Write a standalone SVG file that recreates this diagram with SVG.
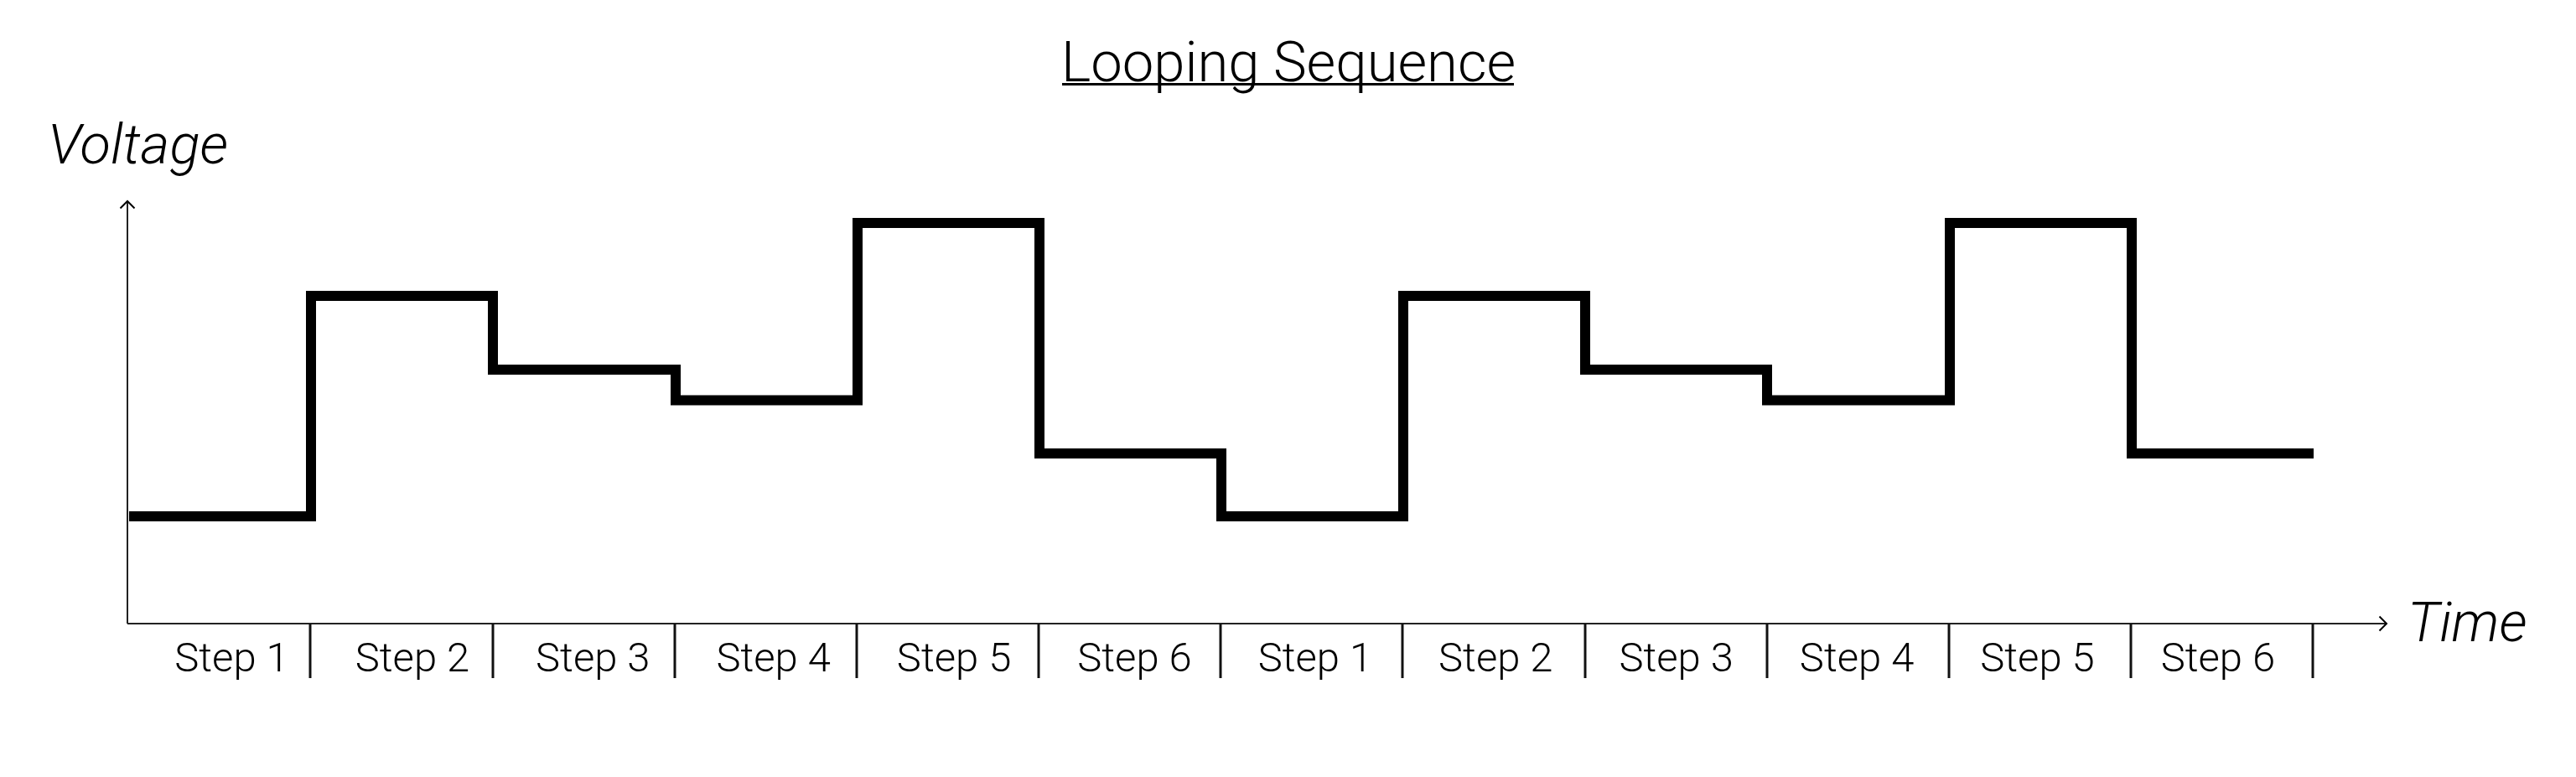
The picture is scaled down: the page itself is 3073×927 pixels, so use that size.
<svg xmlns="http://www.w3.org/2000/svg" width="3073" height="927" viewBox="0 0 3073 927">
<style>
  .lbl { font-family: Roboto, "Liberation Sans", sans-serif; font-weight: 300; fill: #000; }
  .step { font-size: 49px; text-anchor: middle; }
  .axis { stroke: #222; stroke-width: 2; fill: none; }
  .tick { stroke: #111; stroke-width: 3; fill: none; }
  .wave { stroke: #000; stroke-width: 12; fill: none; stroke-linejoin: miter; stroke-linecap: butt; }
</style>
<defs>
  <marker id="arrow" markerUnits="userSpaceOnUse" markerWidth="24" markerHeight="24" refX="0" refY="0" viewBox="-12 -12 24 24" orient="auto">
    <path d="M -8.5 -8.5 L 0 0 L -8.5 8.5" fill="none" stroke="#000" stroke-width="2"/>
  </marker>
</defs>
<rect width="3073" height="927" fill="#fff"/>
<g id="title">
  <text class="lbl" x="1537" y="97" font-size="67" text-anchor="middle">Looping Sequence</text>
  <line x1="1267" y1="100.5" x2="1806" y2="100.5" stroke="#000" stroke-width="3"/>
</g>
<g id="y-label"><text class="lbl" x="57" y="195" font-size="67" font-style="italic">Voltage</text></g>
<g id="x-label"><text class="lbl" x="2872" y="765" font-size="66" font-style="italic">Time</text></g>
<g id="connectors">
  <line id="y-axis" class="axis" x1="152" y1="744" x2="152" y2="240" marker-end="url(#arrow)"/>
  <line id="x-axis" class="axis" x1="152" y1="744" x2="2847" y2="744" marker-end="url(#arrow)"/>
  <g id="ticks">
    <line class="tick" x1="370" y1="744" x2="370" y2="809"/>
    <line class="tick" x1="588" y1="744" x2="588" y2="809"/>
    <line class="tick" x1="805" y1="744" x2="805" y2="809"/>
    <line class="tick" x1="1022" y1="744" x2="1022" y2="809"/>
    <line class="tick" x1="1239" y1="744" x2="1239" y2="809"/>
    <line class="tick" x1="1456" y1="744" x2="1456" y2="809"/>
    <line class="tick" x1="1673" y1="744" x2="1673" y2="809"/>
    <line class="tick" x1="1891" y1="744" x2="1891" y2="809"/>
    <line class="tick" x1="2108" y1="744" x2="2108" y2="809"/>
    <line class="tick" x1="2325" y1="744" x2="2325" y2="809"/>
    <line class="tick" x1="2542" y1="744" x2="2542" y2="809"/>
    <line class="tick" x1="2759" y1="744" x2="2759" y2="809"/>
  </g>
</g>
<g id="waveform">
  <path class="wave" d="M 154 616 H 371 V 353 H 588 V 441 H 806 V 477.5 H 1023 V 266 H 1240 V 541 H 1457 V 616 H 1674 V 353 H 1891 V 441 H 2108 V 477.5 H 2326 V 266 H 2543 V 541 H 2760"/>
</g>
<g id="step-labels">
  <text class="lbl step" x="276.5" y="801">Step 1</text>
  <text class="lbl step" x="492" y="801">Step 2</text>
  <text class="lbl step" x="707.3" y="801">Step 3</text>
  <text class="lbl step" x="922.7" y="801">Step 4</text>
  <text class="lbl step" x="1138.1" y="801">Step 5</text>
  <text class="lbl step" x="1353.5" y="801">Step 6</text>
  <text class="lbl step" x="1568.9" y="801">Step 1</text>
  <text class="lbl step" x="1784.3" y="801">Step 2</text>
  <text class="lbl step" x="1999.7" y="801">Step 3</text>
  <text class="lbl step" x="2215.1" y="801">Step 4</text>
  <text class="lbl step" x="2430.5" y="801">Step 5</text>
  <text class="lbl step" x="2645.9" y="801">Step 6</text>
</g>
</svg>
